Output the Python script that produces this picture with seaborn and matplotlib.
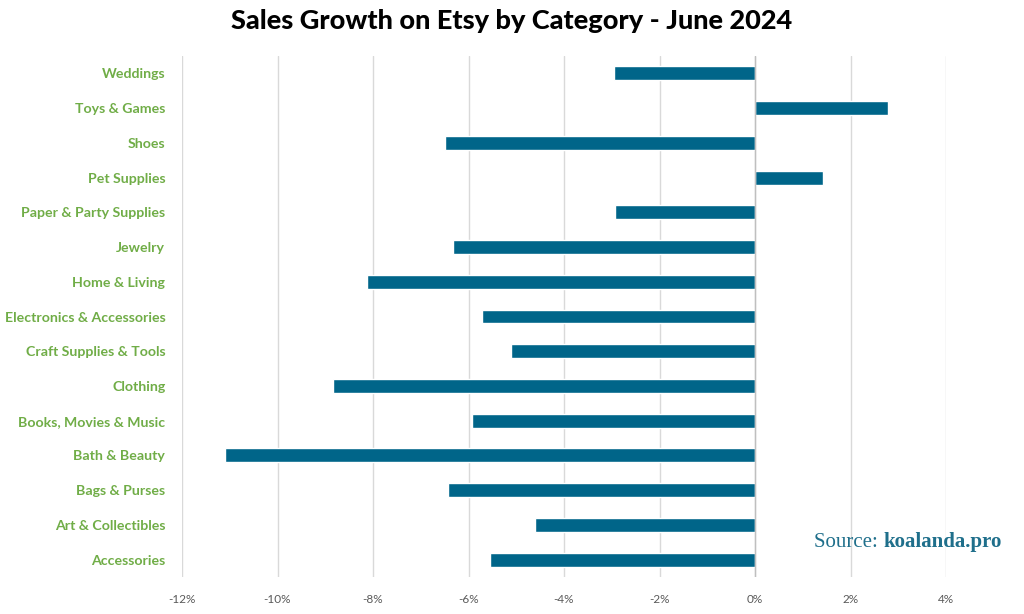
import pandas as pd
import matplotlib.pyplot as plt
import seaborn as sns
from matplotlib.ticker import FuncFormatter

categories = ["Weddings", "Toys & Games", "Shoes", "Pet Supplies", "Paper & Party Supplies",
              "Jewelry", "Home & Living", "Electronics & Accessories", "Craft Supplies & Tools",
              "Clothing", "Books, Movies & Music", "Bath & Beauty", "Bags & Purses",
              "Art & Collectibles", "Accessories"]
growth = [-2.95, 2.79, -6.49, 1.42, -2.93,
          -6.32, -8.13, -5.72, -5.11,
          -8.84, -5.93, -11.10, -6.43,
          -4.61, -5.55]
x_ticks = [-12, -10, -8, -6, -4, -2, 0, 2, 4]

df = pd.DataFrame({"Category": categories, "Growth": growth})

sns.set_style("white")
plt.rcParams['font.family'] = ['Lato', 'DejaVu Sans']

fig = plt.figure(figsize=(10.24, 6.14), dpi=100)
ax = fig.add_axes([182 / 1024, 1 - 577 / 614, (946 - 182) / 1024, (577 - 56) / 614])

sns.barplot(data=df, x="Growth", y="Category", orient="h", color="#006589",
            width=0.4, saturation=1, ax=ax)

ax.set_xlim(-12, 4)
ax.set_xticks(x_ticks)
ax.xaxis.set_major_formatter(FuncFormatter(lambda v, p: f"{v:.0f}%"))
ax.grid(axis="x", color="#d9d9d9", linewidth=1)
ax.set_axisbelow(True)
ax.axvline(0, color="#bfbfbf", linewidth=1, zorder=1)
for s in ax.spines.values():
    s.set_visible(False)
ax.tick_params(axis="x", length=0, labelsize=8.5, labelcolor="#595959", pad=12)
ax.tick_params(axis="y", length=0, labelsize=10.2, labelcolor="#70AD47", pad=12)
for lbl in ax.get_yticklabels():
    lbl.set_fontweight("bold")
ax.set_xlabel("")
ax.set_ylabel("")

fig.suptitle("Sales Growth on Etsy by Category - June 2024", x=0.5, y=0.985,
             fontsize=19.5, fontweight="black", color="black")
src = fig.text(814 / 1024, 0.117, "Source: ", ha="left", va="center", fontsize=15,
               color="#1f6f8b", family=["Liberation Serif", "DejaVu Serif"])
fig.canvas.draw()
bb = src.get_window_extent()
fig.text(bb.x1 / fig.bbox.width, 0.117, "koalanda.pro", ha="left", va="center", fontsize=15,
         color="#1f6f8b", fontweight="bold", family=["Liberation Serif", "DejaVu Serif"])

fig.savefig("out.png", dpi=100)
